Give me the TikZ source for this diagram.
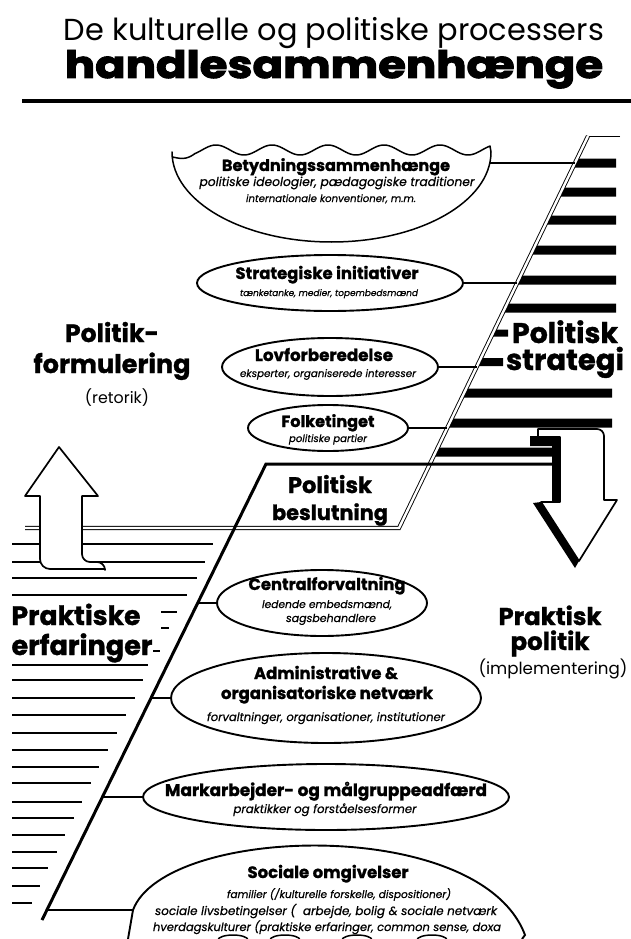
\documentclass[tikz,border=0pt]{standalone}
\usepackage{graphicx}
\usepackage{fontspec}
\setmainfont{Poppins}[BoldFeatures={FakeBold=1.2}, ItalicFeatures={FakeBold=0.6}]
\newfontfamily\heavyfont{Poppins}[BoldFeatures={FakeBold=2.5}]
\usetikzlibrary{shapes.geometric}
% scale a line of text to a given width (and optionally height), in pt
\newcommand{\fitw}[2]{\resizebox{#1pt}{!}{#2}}
\newcommand{\fitwh}[3]{\resizebox{#1pt}{#2pt}{#3}}
\begin{document}
\begin{tikzpicture}[x=1pt,y=-1pt,
  txt/.style={anchor=base, inner sep=0pt, outer sep=0pt},
  oval/.style={ellipse, draw, line width=1.9pt, fill=white, inner sep=0pt},
  thinlink/.style={line width=1.1pt},
  link/.style={line width=1.8pt},
  rule/.style={line width=1.3pt},
  outline/.style={draw, line width=1.7pt, fill=white, line join=round},
]
\fill[white] (0,0) rectangle (631,939);
\useasboundingbox (0,0) rectangle (631,939);

% ---------- title ----------
\node[txt] (t1) at (334,41) {\fitw{540}{De kulturelle og politiske processers}};
\node[txt] (t2) at (334,78) {\fitwh{538}{28}{\heavyfont\bfseries handlesammenhænge}};
\coordinate (r0) at (22,101);
\coordinate (r1) at (631,101);
\draw[line width=4pt] (r0) -- (r1);

% ---------- strategy bands on the right ----------
\foreach \yc/\xe/\h in {163/616/4.5, 192/616/4.5, 220/616/4.5, 250/616/4.5,
                        280/616/4.5, 308/616/4.5, 333/508/3.5, 362/503/4,
                        393/612/4.5, 423/612/4.5, 452/553/4.5}{
  \fill ({589.5-0.4821*(\yc-\h-136)},{\yc-\h}) -- (\xe,{\yc-\h})
        -- (\xe,{\yc+\h}) -- ({589.5-0.4821*(\yc+\h-136)},{\yc+\h}) -- cycle;
}

% double boundary line: strategy / decision
\coordinate (s0) at (620,136);
\coordinate (s1) at (588,136);
\coordinate (s2) at (399,528);
\coordinate (s3) at (25,528);
\draw[line width=1pt] (s0) -- (s1);
\draw[double=white, double distance=2.4pt, line width=0.9pt] (s1) -- (s2) -- (s3);

% ---------- practical experience lines on the left ----------
\foreach \y/\xe in {544/213, 562/205, 578/197, 595/187,
                    665/148, 680/143, 698/135, 715/126, 733/117, 750/108,
                    767/99, 783/91, 802/82, 818/74, 835/65, 852/57,
                    868/48, 886/40, 903/32}{
  \draw[rule] (12,\y) -- (\xe,\y);
}
\draw[rule] (161,612) -- (177,612);
\draw[rule] (161,628) -- (169,628);
\draw[rule] (153,651) -- (160,651);

% decision box top edge and the long practice boundary
\coordinate (p0) at (553,464);
\coordinate (p1) at (266,464);
\coordinate (p2) at (42,920);
\draw[line width=3pt, line join=miter] (p0) -- (p1) -- (p2);

% ---------- upward arrow ----------
\draw[outline] (59,447) -- (98,496) -- (82,496) [rounded corners=8pt]-- (82,562)
   -- (105,562) [sharp corners]-- (105,569) [rounded corners=10pt]-- (40,569)
   [sharp corners]-- (40,496) -- (25,496) -- cycle;

% ---------- downward arrow ----------
\draw[outline] (538,429) [rounded corners=7pt]-- (604,429) [sharp corners]-- (604,500)
   -- (617,500) -- (579,561) -- (541,502) -- (560,502) -- (560,437) -- (538,437) -- cycle;
\fill (530,436) [rounded corners=5pt]-- (560,436) [sharp corners]-- (560,502)
   -- (552,502) -- (552,446) -- (530,446) -- cycle;
\fill (541,502) -- (579,561) -- (575,568) -- (533,503) -- cycle;

% ---------- meaning contexts (bowl with wavy top) ----------
\draw[line width=1.5pt, fill=white, line join=round]
  plot[domain=172:490, samples=140, smooth]
     (\x,{150-5*sin(6.4286*(\x-202))+8*max(0,(195-\x)/23)})
  -- (491,152) arc[start angle=0, end angle=180, x radius=159.5, y radius=90] -- cycle;
\coordinate (bet) at (489,163);
\coordinate (dbet) at (575,163);
\draw[thinlink] (bet) -- (dbet);

% ---------- upper ellipses ----------
\node[oval, minimum width=266pt, minimum height=56pt] (strat) at (330,283) {};
\node[oval, minimum width=216pt, minimum height=58pt] (lov) at (330,367) {};
\node[oval, minimum width=160pt, minimum height=46pt] (folk) at (328,428) {};
\coordinate (dstrat) at (517.1,283);
\coordinate (dlov) at (476.6,367);
\coordinate (dfolk) at (447.2,428);
\draw[thinlink] (strat.east) -- (dstrat);
\draw[thinlink] (lov.east) -- (dlov);
\draw[thinlink] (folk.east) -- (dfolk);

% ---------- lower ellipses ----------
\node[oval, minimum width=210pt, minimum height=66pt] (cen) at (322,603) {};
\node[oval, minimum width=310pt, minimum height=90pt] (adm) at (326,698) {};
\node[oval, minimum width=366pt, minimum height=66pt] (mark) at (326,797) {};
\coordinate (dcen) at (197.7,603);
\coordinate (dadm) at (151,698);
\coordinate (dmark) at (102.4,797);
\draw[link] (dcen) -- (cen.west);
\draw[link] (dadm) -- (adm.west);
\draw[link] (dmark) -- (mark.west);

% social surroundings (cut by the lower edge)
\draw[line width=1.9pt, fill=white] (128,939) -- (133,910)
  .. controls (165,825) and (480,815) .. (525,935) -- (522,939);
\coordinate (soc) at (133,910);
\coordinate (dsoc) at (47,910);
\draw[link] (dsoc) -- (soc);
\foreach \c in {233,285,357,432}{
  \draw[line width=1.5pt] ({\c-15},940) arc[start angle=180, end angle=360, x radius=15, y radius=5];
}

% ---------- texts in the shapes ----------
\node[txt] (b1) at (336,171) {\fitw{228}{\bfseries Betydningssammenhænge}};
\node[txt] (b2) at (337,186) {\fitw{275}{\itshape politiske ideologier, pædagogiske traditioner}};
\node[txt] (b3) at (331,202) {\fitw{170}{\itshape internationale konventioner, m.m.}};

\node[txt] (st1) at (327,279) {\fitw{183}{\bfseries Strategiske initiativer}};
\node[txt] (st2) at (329,296) {\fitw{178}{\itshape tænketanke, medier, topembedsmænd}};

\node[txt] (l1) at (324,361) {\fitw{138}{\bfseries Lovforberedelse}};
\node[txt] (l2) at (328,377) {\fitw{176}{\itshape eksperter, organiserede interesser}};

\node[txt] (f1) at (328,427) {\fitw{93}{\bfseries Folketinget}};
\node[txt] (f2) at (328,442) {\fitw{78}{\itshape politiske partier}};

\node[txt] (pb1) at (330,493) {\fitw{84}{\bfseries Politisk}};
\node[txt] (pb2) at (330,520) {\fitw{116}{\bfseries beslutning}};

\node[txt] (c1) at (327,590) {\fitw{157}{\bfseries Centralforvaltning}};
\node[txt] (c2) at (327,608) {\fitw{130}{\itshape ledende embedsmænd,}};
\node[txt] (c3) at (331,622) {\fitw{90}{\itshape sagsbehandlere}};

\node[txt] (a1) at (326,679) {\fitw{144}{\bfseries Administrative \&}};
\node[txt] (a2) at (327,699) {\fitw{212}{\bfseries organisatoriske netværk}};
\node[txt] (a3) at (326,721) {\fitw{238}{\itshape forvaltninger, organisationer, institutioner}};

\node[txt] (m1) at (326,796) {\fitw{322}{\bfseries Markarbejder- og målgruppeadfærd}};
\node[txt] (m2) at (325,813) {\fitw{183}{\itshape praktikker og forståelsesformer}};

\node[txt] (so1) at (328,878) {\fitw{161}{\bfseries Sociale omgivelser}};
\node[txt] (so2) at (339,898) {\fitw{224}{\itshape familier (/kulturelle forskelle, dispositioner)}};
\node[txt] (so3) at (326,915) {\fitw{342}{\itshape sociale livsbetingelser (\ \ arbejde, bolig \& sociale netværk}};
\node[txt] (so4) at (327,931) {\fitw{348}{\itshape hverdagskulturer (praktiske erfaringer, common sense, doxa}};

% ---------- side labels ----------
\node[txt] (pf1) at (112,342) {\fitw{94}{\bfseries Politik-}};
\node[txt] (pf2) at (112,373) {\fitw{157}{\bfseries formulering}};
\node[txt] (pf3) at (117,403) {\fitw{64}{(retorik)}};

\node[txt] (ps1) at (565,343) {\fitw{106}{\bfseries Politisk}};
\node[txt] (ps2) at (565,370) {\fitw{118}{\bfseries strategi}};

\node[txt] (pe1) at (76,625) {\fitw{129}{\bfseries Praktiske}};
\node[txt] (pe2) at (82,655) {\fitw{141}{\bfseries erfaringer}};

\node[txt] (pp1) at (550,625) {\fitw{103}{\bfseries Praktisk}};
\node[txt] (pp2) at (550,650) {\fitw{79}{\bfseries politik}};
\node[txt] (pp3) at (553,674) {\fitw{149}{(implementering)}};
\end{tikzpicture}
\end{document}
